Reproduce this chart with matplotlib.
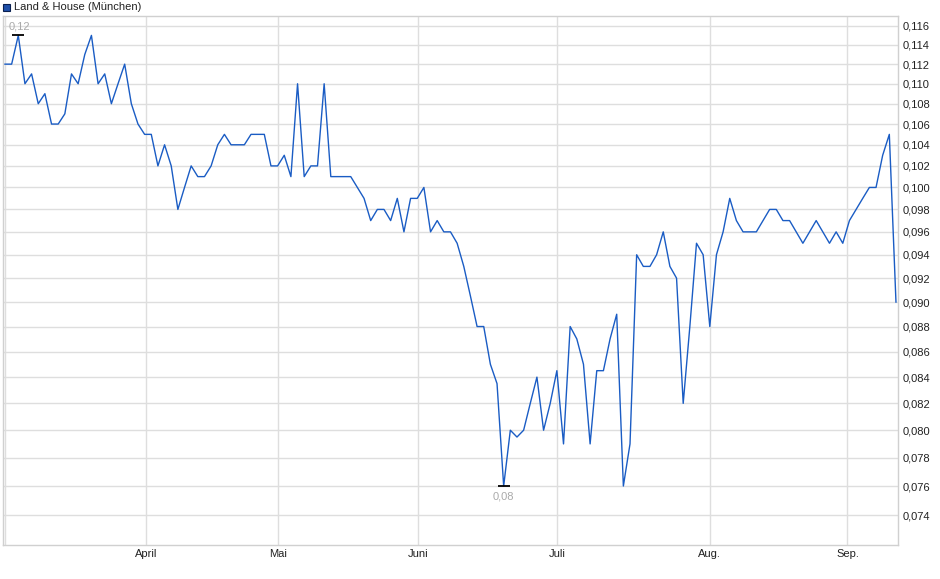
import matplotlib
matplotlib.use("Agg")
import matplotlib.pyplot as plt
from matplotlib.ticker import FixedLocator, NullLocator, NullFormatter
import numpy as np

plt.rcParams['font.family'] = ['Liberation Sans', 'DejaVu Sans']

series_name = "Land & House (München)"
prices = [
    0.112, 0.112, 0.115, 0.110, 0.111, 0.108, 0.109, 0.106, 0.106, 0.107,
    0.111, 0.110, 0.113, 0.115, 0.110, 0.111, 0.108, 0.110, 0.112, 0.108,
    0.106, 0.105, 0.105, 0.102, 0.104, 0.102, 0.098, 0.100, 0.102, 0.101,
    0.101, 0.102, 0.104, 0.105, 0.104, 0.104, 0.104, 0.105, 0.105, 0.105,
    0.102, 0.102, 0.103, 0.101, 0.110, 0.101, 0.102, 0.102, 0.110, 0.101,
    0.101, 0.101, 0.101, 0.100, 0.099, 0.097, 0.098, 0.098, 0.097, 0.099,
    0.096, 0.099, 0.099, 0.100, 0.096, 0.097, 0.096, 0.096, 0.095, 0.093,
    0.0905, 0.088, 0.088, 0.085, 0.0835, 0.076, 0.080, 0.0795, 0.080, 0.082,
    0.084, 0.080, 0.082, 0.0845, 0.079, 0.088, 0.087, 0.085, 0.079, 0.0845,
    0.0845, 0.087, 0.089, 0.076, 0.079, 0.094, 0.093, 0.093, 0.094, 0.096,
    0.093, 0.092, 0.082, 0.088, 0.095, 0.094, 0.088, 0.094, 0.096, 0.099,
    0.097, 0.096, 0.096, 0.096, 0.097, 0.098, 0.098, 0.097, 0.097, 0.096,
    0.095, 0.096, 0.097, 0.096, 0.095, 0.096, 0.095, 0.097, 0.098, 0.099,
    0.100, 0.100, 0.103, 0.105, 0.090,
]
month_labels = ["April", "Mai", "Juni", "Juli", "Aug.", "Sep."]
month_pos = [21.17, 41.0, 62.1, 83.0, 106.0, 126.7]
y_ticks = [0.074, 0.076, 0.078, 0.080, 0.082, 0.084, 0.086, 0.088, 0.090,
           0.092, 0.094, 0.096, 0.098, 0.100, 0.102, 0.104, 0.106, 0.108,
           0.110, 0.112, 0.114, 0.116]
max_label = "0,12"
min_label = "0,08"

x = np.arange(len(prices))
vals = np.array(prices)

W, H = 940, 579
fig = plt.figure(figsize=(W / 100, H / 100), dpi=100)
left, right, top, bottom = 3, 898.3, 15.7, 545
ax = fig.add_axes([left / W, (H - bottom) / H, (right - left) / W, (bottom - top) / H])

line_color = "#1a5cc4"
grid_color = "#dedede"

ax.set_yscale("log")
ax.set_ylim(0.07199, 0.1171)
ax.set_xlim(-0.3, len(prices) - 1 + 0.35)

ax.yaxis.set_major_locator(FixedLocator(y_ticks))
ax.yaxis.set_minor_locator(NullLocator())
ax.yaxis.set_minor_formatter(NullFormatter())
ax.set_yticklabels([f"{v:.3f}".replace(".", ",") for v in y_ticks])
ax.yaxis.tick_right()
ax.tick_params(axis="y", length=0, pad=3, labelsize=8, labelcolor="#222222")

ax.set_xticks(month_pos)
ax.set_xticklabels(month_labels)
ax.tick_params(axis="x", length=0, pad=3, labelsize=8, labelcolor="#222222")

ax.grid(True, color=grid_color, linewidth=1.0)
ax.axvline(0, color=grid_color, linewidth=1.0)
for s in ax.spines.values():
    s.set_color("#d0d0d0")
    s.set_linewidth(1.0)

ax.plot(x, vals, color=line_color, linewidth=1.0, zorder=3)

imax = int(np.argmax(vals))
imin = int(np.argmin(vals))
ax.plot([x[imax]], [vals[imax]], marker="_", markersize=9, mew=1.3, color="black", zorder=4)
ax.plot([x[imin]], [vals[imin]], marker="_", markersize=9, mew=1.3, color="black", zorder=4)
ax.annotate(max_label, (x[imax], vals[imax]), xytext=(0.8, 2.5), textcoords="offset points",
            ha="center", va="bottom", fontsize=8, color="#aaaaaa")
ax.annotate(min_label, (x[imin], vals[imin]), xytext=(0, -4), textcoords="offset points",
            ha="center", va="top", fontsize=8, color="#aaaaaa")

# legend
fig.patches.append(plt.Rectangle((3 / W, (H - 11) / H), 7 / W, 7 / H, transform=fig.transFigure,
                                 facecolor="#1f4fa8", edgecolor="#0a2050", linewidth=0.8))
fig.text(14 / W, (H - 6.5) / H, series_name, fontsize=8, color="#222222", va="center", ha="left")

fig.savefig("out.png", dpi=100)
